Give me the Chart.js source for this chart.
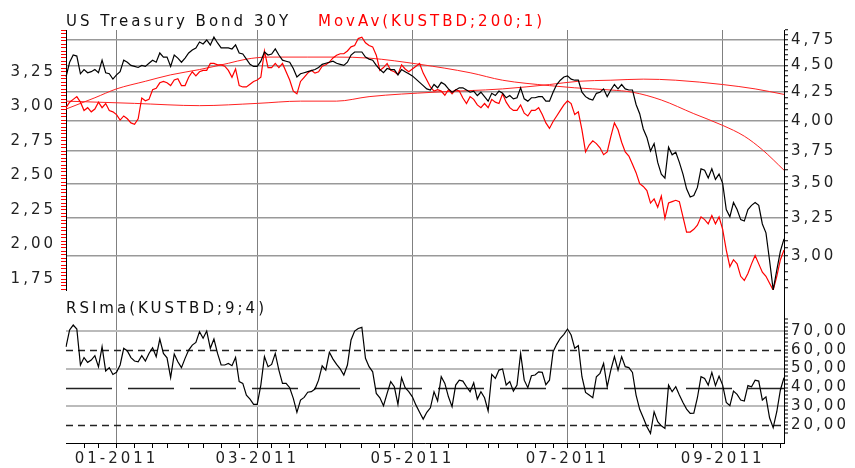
<!DOCTYPE html>
<html>
<head>
<meta charset="utf-8">
<title>US Treasury Bond 30Y</title>
<script src="https://cdn.jsdelivr.net/npm/chart.js@4.4.1/dist/chart.umd.min.js"></script>
<style>
  body { margin: 0; background: #fff; }
  #page { position: relative; width: 855px; height: 468px; overflow: hidden; font-family: 'DejaVu Sans', sans-serif; }
  .box { position: absolute; left: 0; width: 855px; }
  .title { position: absolute; font-size: 15px; letter-spacing: 3px; line-height: 18px; white-space: nowrap; }
</style>
</head>
<body>
<div id="page">
  <div class="box" style="top:0;height:300px"><canvas id="priceChart"></canvas></div>
  <div class="box" style="top:290px;height:178px"><canvas id="rsiChart"></canvas></div>
  <div class="title" style="left:66px;top:12px;color:#111">US Treasury Bond 30Y</div>
  <div class="title" style="left:318px;top:12px;color:#f00">MovAv(KUSTBD;200;1)</div>
  <div class="title" style="left:66px;top:299px;color:#111">RSIma(KUSTBD;9;4)</div>
</div>
<script>
// trading days on the x axis
const firstDay = '2010-12-13';
const lastDay = '2011-09-27';
const holidays = ['2010-12-24', '2011-01-17', '2011-02-21', '2011-04-22', '2011-05-30', '2011-07-04', '2011-09-05'];
const monthLabels = ['01-2011', '03-2011', '05-2011', '07-2011', '09-2011'];

// 30Y yield, right (log) axis
const bond30y = [
  4.39, 4.53, 4.60, 4.59, 4.42, 4.46, 4.43, 4.44, 4.46, 4.43,
  4.55, 4.43, 4.42, 4.37, 4.41, 4.44, 4.55, 4.53, 4.50, 4.49,
  4.48, 4.50, 4.49, 4.52, 4.55, 4.53, 4.62, 4.58, 4.58, 4.49,
  4.60, 4.57, 4.53, 4.57, 4.62, 4.65, 4.67, 4.73, 4.71, 4.75,
  4.70, 4.78, 4.72, 4.67, 4.67, 4.67, 4.66, 4.70, 4.62, 4.61,
  4.56, 4.51, 4.49, 4.49, 4.54, 4.63, 4.60, 4.61, 4.66, 4.60,
  4.55, 4.54, 4.53, 4.47, 4.39, 4.42, 4.43, 4.44, 4.45, 4.46,
  4.48, 4.51, 4.52, 4.53, 4.54, 4.52, 4.51, 4.50, 4.53, 4.60,
  4.63, 4.63, 4.63, 4.58, 4.56, 4.55, 4.50, 4.46, 4.43, 4.47,
  4.46, 4.46, 4.41, 4.46, 4.44, 4.42, 4.40, 4.37, 4.34, 4.31,
  4.28, 4.27, 4.32, 4.29, 4.34, 4.32, 4.28, 4.25, 4.27, 4.29,
  4.29, 4.27, 4.25, 4.26, 4.22, 4.25, 4.21, 4.17, 4.24, 4.22,
  4.26, 4.24, 4.20, 4.22, 4.19, 4.20, 4.29, 4.19, 4.17, 4.20,
  4.20, 4.21, 4.21, 4.17, 4.17, 4.25, 4.32, 4.36, 4.39, 4.40,
  4.37, 4.36, 4.36, 4.25, 4.21, 4.19, 4.18, 4.24, 4.25, 4.28,
  4.21, 4.27, 4.32, 4.28, 4.32, 4.28, 4.27, 4.27, 4.14, 4.06,
  3.93, 3.86, 3.75, 3.81, 3.66, 3.57, 3.54, 3.78, 3.72, 3.74,
  3.66, 3.57, 3.46, 3.40, 3.41, 3.47, 3.61, 3.60, 3.54, 3.61,
  3.53, 3.57, 3.50, 3.31, 3.26, 3.36, 3.31, 3.24, 3.23, 3.31,
  3.34, 3.36, 3.34, 3.21, 3.15, 2.97, 2.79, 2.91, 3.03, 3.11
];

// red yield, left axis
const otherYield = [
  2.99, 3.03, 3.05, 3.07, 3.03, 2.97, 2.99, 2.96, 2.98, 3.03,
  2.99, 3.02, 2.97, 2.96, 2.94, 2.90, 2.93, 2.91, 2.88, 2.87,
  2.91, 3.06, 3.04, 3.05, 3.12, 3.13, 3.17, 3.18, 3.17, 3.15,
  3.19, 3.20, 3.15, 3.15, 3.21, 3.25, 3.22, 3.25, 3.26, 3.26,
  3.31, 3.31, 3.30, 3.30, 3.29, 3.26, 3.21, 3.27, 3.15, 3.14,
  3.14, 3.16, 3.18, 3.19, 3.21, 3.40, 3.28, 3.28, 3.31, 3.28,
  3.31, 3.25, 3.19, 3.11, 3.09, 3.18, 3.21, 3.24, 3.26, 3.24,
  3.25, 3.29, 3.30, 3.32, 3.35, 3.37, 3.38, 3.38, 3.40, 3.43,
  3.44, 3.49, 3.50, 3.46, 3.44, 3.43, 3.37, 3.26, 3.28, 3.31,
  3.26, 3.25, 3.23, 3.30, 3.27, 3.25, 3.27, 3.29, 3.31, 3.24,
  3.19, 3.14, 3.11, 3.12, 3.11, 3.08, 3.12, 3.09, 3.12, 3.11,
  3.06, 3.02, 3.07, 3.05, 3.01, 2.99, 3.02, 2.99, 3.05, 3.03,
  3.02, 3.09, 3.03, 2.99, 2.97, 2.97, 3.01, 2.95, 2.93, 2.97,
  2.97, 2.99, 2.94, 2.88, 2.84, 2.89, 2.93, 2.97, 3.01, 3.04,
  3.02, 2.94, 2.96, 2.83, 2.67, 2.72, 2.75, 2.73, 2.70, 2.65,
  2.67, 2.78, 2.88, 2.83, 2.74, 2.67, 2.64, 2.58, 2.52, 2.44,
  2.42, 2.39, 2.30, 2.33, 2.27, 2.35, 2.19, 2.30, 2.31, 2.32,
  2.31, 2.20, 2.09, 2.09, 2.11, 2.14, 2.20, 2.18, 2.15, 2.21,
  2.15, 2.20, 2.11, 1.96, 1.84, 1.89, 1.86, 1.77, 1.74, 1.79,
  1.86, 1.92, 1.86, 1.80, 1.77, 1.72, 1.67, 1.77, 1.89, 1.96
];

// moving averages (right axis), read at these trading-day numbers
const maFastIdx = [0, 8, 14, 22, 29, 37, 45, 50, 56, 67, 75, 84, 98, 112, 121, 134, 141, 151, 157, 165, 174, 182, 188, 193, 199];
const maFast = [4.10, 4.20, 4.28, 4.35, 4.41, 4.46, 4.52, 4.56, 4.58, 4.58, 4.58, 4.57, 4.51, 4.43, 4.36, 4.31, 4.29, 4.27, 4.25, 4.18, 4.06, 3.96, 3.87, 3.76, 3.60];
const maSlowIdx = [0, 19, 37, 53, 65, 75, 84, 102, 121, 134, 142, 151, 160, 169, 182, 191, 199];
const maSlow = [4.17, 4.15, 4.13, 4.15, 4.17, 4.17, 4.21, 4.25, 4.28, 4.32, 4.35, 4.36, 4.37, 4.36, 4.32, 4.28, 4.23];

// RSI panel
const rsi = [
  61.5, 70.4, 73.0, 70.9, 51.9, 55.8, 53.3, 54.5, 56.8, 50.9,
  61.5, 48.7, 50.5, 46.9, 48.0, 51.9, 60.7, 59.3, 55.8, 54.0,
  53.6, 56.8, 54.0, 58.0, 61.0, 56.3, 65.6, 58.0, 55.7, 45.2,
  57.7, 53.6, 50.5, 55.4, 59.8, 62.4, 63.8, 69.5, 66.0, 69.8,
  60.7, 65.6, 58.0, 51.9, 51.9, 52.7, 51.5, 55.9, 43.1, 42.2,
  36.0, 33.9, 31.1, 31.1, 41.3, 56.3, 51.0, 52.2, 58.0, 49.2,
  42.2, 42.2, 39.9, 34.3, 26.9, 33.4, 34.8, 37.5, 37.8, 39.2,
  43.9, 51.5, 49.2, 58.6, 55.0, 52.2, 49.8, 46.6, 51.9, 65.1,
  69.8, 71.2, 71.8, 55.4, 51.0, 48.3, 36.9, 34.6, 30.4, 36.9,
  43.1, 40.4, 31.1, 45.2, 39.9, 37.8, 35.1, 30.7, 26.9, 23.3,
  26.9, 29.3, 37.8, 32.9, 45.7, 42.2, 35.1, 29.9, 41.3, 43.9,
  43.4, 40.4, 37.8, 42.5, 33.9, 37.8, 34.6, 27.6, 46.9, 44.8,
  49.2, 49.8, 41.3, 43.1, 38.1, 41.3, 58.0, 43.9, 39.9, 46.2,
  46.6, 48.3, 48.0, 41.5, 43.9, 58.9, 62.8, 66.0, 68.1, 70.9,
  67.7, 60.7, 62.1, 45.7, 37.4, 36.0, 34.6, 45.7, 47.5, 52.7,
  40.4, 49.2, 56.3, 49.2, 56.3, 51.0, 50.5, 48.0, 36.0, 28.5,
  24.0, 19.3, 15.8, 27.2, 22.0, 19.8, 18.4, 41.3, 37.8, 40.4,
  36.0, 32.1, 28.6, 26.3, 26.5, 34.6, 45.7, 44.8, 41.3, 48.0,
  41.0, 46.0, 41.3, 32.1, 30.4, 38.1, 36.4, 33.4, 32.9, 41.0,
  40.4, 43.9, 43.4, 33.4, 35.1, 24.0, 18.8, 27.2, 38.7, 45.2
];
const rsiLevels = [60, 40, 20];
const rsiGrid = [70, 50, 30];

// build trading days
const dates = [];
for (let d = new Date(firstDay + 'T00:00:00Z'); d <= new Date(lastDay + 'T00:00:00Z'); d.setUTCDate(d.getUTCDate() + 1)) {
  const s = d.toISOString().slice(0, 10);
  const wd = d.getUTCDay();
  if (wd !== 0 && wd !== 6 && !holidays.includes(s)) dates.push(s);
}
const dow = s => new Date(s + 'T00:00:00Z').getUTCDay();
const monthOf = s => s.slice(5, 7) + '-' + s.slice(0, 4);

const monthStart = [];
const weekStart = [];
dates.forEach((s, i) => {
  if (i == 0) return;
  if (s.slice(5, 7) !== dates[i - 1].slice(5, 7)) monthStart.push(i);
  if (dow(s) < dow(dates[i - 1])) weekStart.push(i);
});
const gridIdx = monthStart.filter(i => monthLabels.includes(monthOf(dates[i])));
const xTicks = monthStart.concat(weekStart.filter(i => monthStart.every(m => Math.abs(m - i) > 2))).sort((a, b) => a - b);

function sparse(idx, vals) {
  const a = new Array(dates.length).fill(null);
  idx.forEach((k, j) => { a[k] = vals[j]; });
  return a;
}
const comma = (v, n) => v.toFixed(n).replace('.', ',');

// tick lists
const leftTicks = [];
for (let k = 67; k <= 142; k++) leftTicks.push(k / 40);
const rightTicks = [];
for (let k = 56; k <= 97; k++) rightTicks.push(k / 20);
const rsiTicks = [];
for (let k = 16; k <= 76; k += 2) rsiTicks.push(k);

// fixed axis boxes, no extra label padding
function fixWidth(w) {
  return s => { s.width = w; s.paddingTop = 0; s.paddingBottom = 0; };
}

Chart.defaults.font.family = "'DejaVu Sans', sans-serif";
Chart.defaults.font.size = 15;
Chart.defaults.color = '#222';
Chart.defaults.animation = false;

// wide letter spacing like the original
const spaced = {
  id: 'spaced',
  beforeDraw(chart) { chart.ctx.letterSpacing = '3px'; }
};

const levelLines = {
  id: 'levelLines',
  beforeDatasetsDraw(chart) {
    const { ctx, chartArea: a, scales: { y } } = chart;
    ctx.save();
    ctx.strokeStyle = '#222';
    ctx.lineWidth = 1.5;
    rsiLevels.forEach(v => {
      ctx.setLineDash(v == 40 ? [46, 16] : [7, 5]);
      const py = Math.round(y.getPixelForValue(v)) + 0.5;
      ctx.beginPath();
      ctx.moveTo(a.left, py);
      ctx.lineTo(a.right, py);
      ctx.stroke();
    });
    ctx.restore();
  }
};

var priceChart = new Chart(document.getElementById('priceChart'), {
  type: 'line',
  data: {
    labels: dates,
    datasets: [
      { data: bond30y, yAxisID: 'yRight', borderColor: '#000', borderWidth: 1.2 },
      { data: otherYield, yAxisID: 'yLeft', borderColor: '#f00', borderWidth: 1.2 },
      { data: sparse(maFastIdx, maFast), yAxisID: 'yRight', borderColor: '#f22', borderWidth: 1, spanGaps: true, cubicInterpolationMode: 'monotone' },
      { data: sparse(maSlowIdx, maSlow), yAxisID: 'yRight', borderColor: '#f22', borderWidth: 1, spanGaps: true, cubicInterpolationMode: 'monotone' }
    ]
  },
  options: {
    responsive: true,
    maintainAspectRatio: false,
    layout: { padding: { top: 30, bottom: 10, left: 0, right: 0 } },
    elements: { point: { radius: 0 }, line: { tension: 0 } },
    plugins: { legend: { display: false }, tooltip: { enabled: false } },
    scales: {
      x: {
        ticks: { display: false },
        grid: { color: '#808080', lineWidth: 1, drawTicks: false },
        border: { display: false },
        afterBuildTicks: s => { s.ticks = gridIdx.map(v => ({ value: v })); },
        afterFit: s => { s.height = 0; s.paddingLeft = 0; s.paddingRight = 0; }
      },
      yLeft: {
        position: 'left',
        min: 1.671,
        max: 3.552,
        afterBuildTicks: s => { s.ticks = leftTicks.map(v => ({ value: v })); },
        afterFit: fixWidth(66),
        ticks: {
          autoSkip: false,
          padding: 5,
          color: '#222',
          callback: v => {
            const k = Math.round(v * 40);
            return (k % 10 == 0 && k >= 70 && k <= 130) ? comma(v, 2) : '';
          }
        },
        grid: { drawOnChartArea: false, color: '#f00', tickLength: 5 },
        border: { color: '#000' }
      },
      yRight: {
        type: 'logarithmic',
        position: 'right',
        min: 2.789,
        max: 4.852,
        afterBuildTicks: s => { s.ticks = rightTicks.map(v => ({ value: v })); },
        afterFit: fixWidth(71),
        ticks: {
          autoSkip: false,
          padding: 3,
          callback: v => {
            const k = Math.round(v * 20);
            return (k % 5 == 0 && k >= 60 && k <= 95) ? comma(v, 2) : '';
          }
        },
        grid: {
          color: c => {
            const k = Math.round(c.tick.value * 20);
            return (k % 5 == 0 && k >= 60 && k <= 95) ? '#999' : 'rgba(0,0,0,0)';
          },
          lineWidth: 1.5,
          tickColor: '#000',
          tickWidth: 1,
          tickLength: 4
        },
        border: { color: '#000' }
      }
    }
  },
  plugins: [spaced]
});

var rsiChart = new Chart(document.getElementById('rsiChart'), {
  type: 'line',
  data: {
    labels: dates,
    datasets: [
      { data: rsi, borderColor: '#000', borderWidth: 1.2 }
    ]
  },
  options: {
    responsive: true,
    maintainAspectRatio: false,
    layout: { padding: { top: 0, bottom: 0, left: 66, right: 0 } },
    elements: { point: { radius: 0 }, line: { tension: 0 } },
    plugins: { legend: { display: false }, tooltip: { enabled: false } },
    scales: {
      x: {
        afterBuildTicks: s => { s.ticks = xTicks.map(v => ({ value: v })); },
        afterFit: s => { s.height = 25; s.paddingLeft = 0; s.paddingRight = 0; },
        ticks: {
          autoSkip: false,
          maxRotation: 0,
          padding: 2,
          callback: v => gridIdx.includes(v) ? monthOf(dates[v]) : ''
        },
        grid: {
          color: c => gridIdx.includes(c.tick.value) ? '#808080' : 'rgba(0,0,0,0)',
          lineWidth: 1,
          tickColor: '#000',
          tickLength: 5
        },
        border: { color: '#000' }
      },
      y: {
        position: 'right',
        min: 10.7,
        max: 91.5,
        afterBuildTicks: s => { s.ticks = rsiTicks.map(v => ({ value: v })); },
        afterFit: fixWidth(71),
        ticks: {
          autoSkip: false,
          padding: 3,
          callback: v => (v % 10 == 0 && v >= 20 && v <= 70) ? comma(v, 2) : ''
        },
        grid: {
          color: c => rsiGrid.includes(c.tick.value) ? '#bbb' : 'rgba(0,0,0,0)',
          lineWidth: 2,
          tickColor: '#000',
          tickWidth: 1,
          tickLength: 4
        },
        border: { color: '#000' }
      }
    }
  },
  plugins: [spaced, levelLines]
});
</script>
</body>
</html>
